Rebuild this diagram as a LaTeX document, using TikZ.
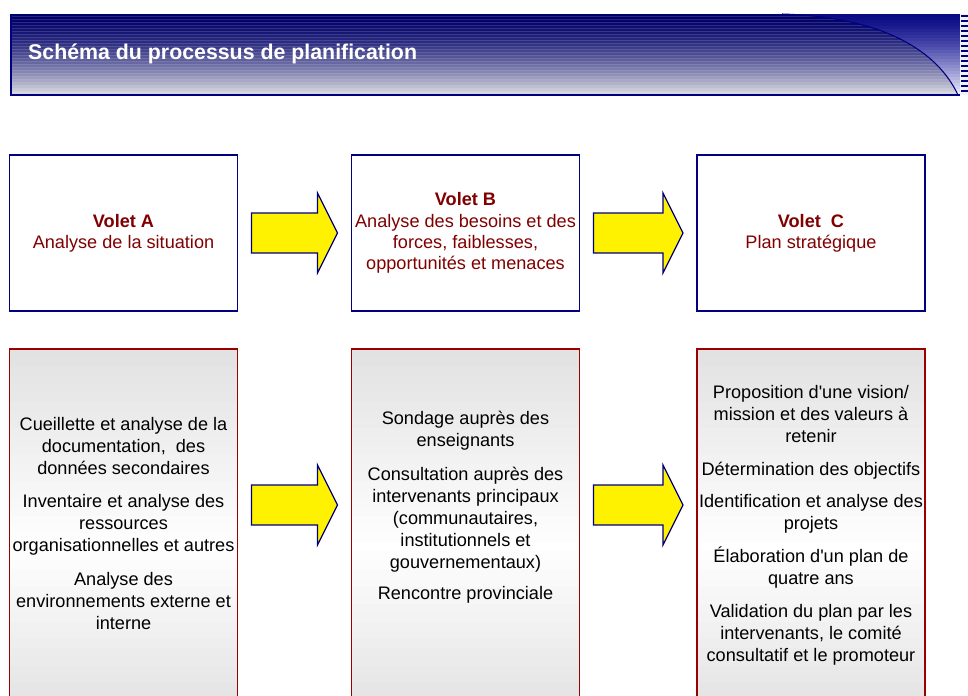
\documentclass[tikz,border=0pt]{standalone}
\usepackage{fontspec}
\setmainfont{Liberation Sans}
\usetikzlibrary{positioning,calc}
\definecolor{bleumarine}{RGB}{0,0,128}
\definecolor{bordeaux}{RGB}{128,0,0}
\definecolor{rougeboite}{RGB}{153,0,0}
\definecolor{grisboite}{RGB}{226,226,226}

\begin{document}
\begin{tikzpicture}[x=0.75pt,y=-0.75pt]
  \tikzset{
    volet/.style={draw=bleumarine, line width=1.1pt, outer sep=0pt, inner xsep=1pt,
      minimum width=171pt, minimum height=117pt,
      align=center, text=bordeaux, font=\fontsize{13.6}{15.9}\selectfont},
    tache/.style={draw=rougeboite, line width=1.1pt, outer sep=0pt,
      minimum width=171pt, minimum height=264pt,
      path picture={
        \foreach \i in {0,...,39}{
          \pgfmathsetmacro\ha{\i/40}
          \pgfmathsetmacro\hb{min(1,(\i+1.05)/40)}
          \ifnum\i<22 \pgfmathtruncatemacro\p{100*\i/22}\else\pgfmathtruncatemacro\p{10+90*(39-\i)/17}\fi
          \fill[white!\p!grisboite]
            ($(path picture bounding box.north west)!\ha!(path picture bounding box.south west)$)
            rectangle ($(path picture bounding box.north east)!\hb!(path picture bounding box.south east)$);
        }}},
    tachetexte/.style={align=center, font=\fontsize{13.6}{16.5}\selectfont},
    fleche/.style={draw=bleumarine, fill=yellow, line width=0.9pt, line join=miter},
  }
  \def\flechebloc#1#2#3{%
    \draw[fleche] ($(#1.east |- #3)+(14,-20)$) -- ($(#2.west |- #3)+(-34,-20)$)
      -- ($(#2.west |- #3)+(-34,-40)$) -- ($(#2.west |- #3)+(-14,0)$)
      -- ($(#2.west |- #3)+(-34,40)$) -- ($(#2.west |- #3)+(-34,20)$)
      -- ($(#1.east |- #3)+(14,20)$) -- cycle;}
  \def\courbe{(782,14) .. controls (885,17) and (938,52) .. (958,95)}
  \useasboundingbox (0,0) rectangle (968,696);
  \clip (0,0) rectangle (968,696);

  % bandeau du titre: d'abord le coin bleu, puis les bandes grises a gauche de la courbe
  \foreach \i in {0,...,26}{
    \pgfmathtruncatemacro\rr{10+225*(\i/26)^1.3}
    \pgfmathtruncatemacro\bb{130+118*(\i/26)^1.1}
    \definecolor{coin}{RGB}{\rr,\rr,\bb}
    \fill[coin] (782,14+3*\i) rectangle (960,17.1+3*\i);
  }
  \begin{scope}
    \clip (11,14) -- \courbe -- (11,95) -- cycle;
    \foreach \i in {0,...,26}{
      \pgfmathtruncatemacro\rr{215*(\i/26)^1.5}
      \pgfmathtruncatemacro\bb{105+118*(\i/26)^1.5}
      \definecolor{bande}{RGB}{\rr,\rr,\bb}
      \fill[bande] (11,14+3*\i) rectangle (960,17.1+3*\i);
      \draw[bande!85!white, line width=0.7pt] (11,16.5+3*\i) -- (960,16.5+3*\i);
    }
  \end{scope}
  \draw[bleumarine, line width=0.8pt] \courbe;
  \draw[bleumarine, line width=1.2pt] (11,14) -- (11,95) -- (960,95);
  \fill[blue!5!white] (960,14) rectangle (968,95);
  \foreach \y in {16,21,...,94}
    \draw[bleumarine, line width=1pt] (961,\y) -- (968,\y);
  \node[anchor=base west, text=white, font=\bfseries\fontsize{16}{19}\selectfont] (titre) at (23.5,60)
    {Schéma du processus de planification};

  % les trois volets
  \node[volet] (voletA) at (123.5,233) {\textbf{Volet A}\\Analyse de la situation};
  \node[volet, right=85.5pt of voletA] (voletB)
    {\textbf{Volet B}\\Analyse des besoins et des\\forces, faiblesses,\\opportunités et menaces};
  \node[volet, right=88.1pt of voletB] (voletC) {\textbf{Volet~ C}\\Plan stratégique};

  \node[tache, below=28.5pt of voletA] (tacheA) {};
  \node[tache, below=28.5pt of voletB] (tacheB) {};
  \node[tache, below=28.5pt of voletC] (tacheC) {};

  \node[tachetexte] (texteA) at ($(tacheA)+(0,-1.5)$)
    {Cueillette et analyse de la\\documentation,~ des\\données secondaires\\[8.5pt]
     Inventaire et analyse des\\ressources\\organisationnelles et autres\\[8.5pt]
     Analyse des\\environnements externe et\\interne};
  \node[tachetexte] (texteB) at ($(tacheB)+(0,-17.5)$)
    {Sondage auprès des\\enseignants\\[8.5pt]
     Consultation auprès des\\intervenants principaux\\(communautaires,\\institutionnels et\\gouvernementaux)\\[7pt]
     Rencontre provinciale};
  \node[tachetexte] (texteC) at (tacheC)
    {Proposition d\textquotesingle une vision/\\mission et des valeurs à\\retenir\\[8pt]
     Détermination des objectifs\\[8pt]
     Identification et analyse des\\projets\\[8pt]
     Élaboration d\textquotesingle un plan de\\quatre ans\\[8pt]
     Validation du plan par les\\intervenants, le comité\\consultatif et le promoteur};

  % fleches
  \coordinate (rangbas) at (0,505);
  \flechebloc{voletA}{voletB}{voletA}
  \flechebloc{voletB}{voletC}{voletB}
  \flechebloc{tacheA}{tacheB}{rangbas}
  \flechebloc{tacheB}{tacheC}{rangbas}
\end{tikzpicture}
\end{document}
